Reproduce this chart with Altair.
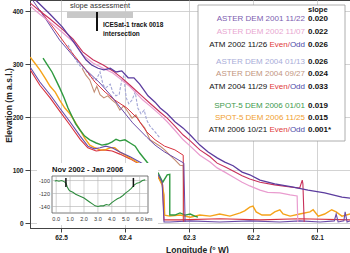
import altair as alt
import pandas as pd

# ---------------- data (longitude °W, elevation m) ----------------
aster2001_lon = [62.539, 62.517, 62.498, 62.478, 62.461, 62.452, 62.442, 62.433, 62.423, 62.414, 62.405, 62.395,
                 62.386, 62.377, 62.364, 62.353, 62.345, 62.334, 62.322, 62.309, 62.298, 62.283, 62.270, 62.256,
                 62.244, 62.231, 62.217, 62.205, 62.189, 62.166, 62.139, 62.114, 62.088, 62.061, 62.048]
aster2001_elev = [420, 394, 370, 338, 308, 298, 292, 289, 292, 285, 287, 274,
                  274, 262, 240, 228, 217, 206, 191, 179, 166, 147, 134, 123,
                  115, 108, 96, 91, 81, 74, 68, 62, 57, 49, 47]

aster2002_lon = [62.548, 62.533, 62.517, 62.498, 62.481, 62.466, 62.450, 62.434, 62.419, 62.405, 62.392, 62.372,
                 62.361, 62.345, 62.334, 62.322, 62.309, 62.298, 62.283, 62.267, 62.256, 62.244, 62.231, 62.217,
                 62.205, 62.189, 62.177, 62.158, 62.142, 62.131, 62.130]
aster2002_elev = [409, 394, 379, 360, 342, 317, 302, 292, 283, 270, 257, 232,
                  221, 204, 191, 175, 157, 145, 128, 115, 104, 96, 87, 77,
                  70, 62, 58, 57, 53, 51, 2]

atm2002_lon = [62.548, 62.533, 62.517, 62.498, 62.481, 62.466, 62.450, 62.434, 62.419, 62.405, 62.392, 62.372,
               62.361, 62.345, 62.334, 62.322, 62.309, 62.298, 62.283, 62.267, 62.256, 62.244, 62.231, 62.217,
               62.205, 62.189, 62.166, 62.142, 62.127, 62.123, 62.122, 62.120]
atm2002_elev = [415, 400, 385, 366, 347, 323, 308, 298, 287, 274, 260, 238,
                226, 209, 198, 183, 166, 155, 138, 125, 113, 106, 98, 89,
                83, 77, 72, 68, 66, 81, 74, 2]

atm2004_odd_lon = [62.544, 62.525, 62.502, 62.478, 62.461, 62.439, 62.423, 62.408, 62.388, 62.366, 62.353,
                   62.338, 62.322, 62.308, 62.306]
atm2004_odd_elev = [420, 387, 345, 311, 289, 264, 242, 219, 189, 162, 147, 134, 123, 113, 2]

atm2004_even_lon = [62.533, 62.509, 62.486, 62.463, 62.447, 62.431, 62.416, 62.397, 62.381, 62.366, 62.353,
                    62.338, 62.322, 62.309, 62.308]
atm2004_even_elev = [402, 364, 326, 292, 266, 247, 232, 217, 198, 172, 157, 145, 138, 128, 2]

aster2004a_lon = [62.489, 62.483, 62.477, 62.470, 62.464, 62.458, 62.452, 62.445, 62.439, 62.434, 62.430, 62.423,
                  62.419, 62.414, 62.409, 62.405, 62.402, 62.398, 62.394, 62.389, 62.384, 62.380, 62.375, 62.370,
                  62.366, 62.361, 62.353, 62.345]
aster2004a_elev = [336, 323, 308, 296, 292, 283, 274, 270, 285, 260, 255, 262,
                   247, 240, 243, 270, 277, 236, 225, 232, 247, 217, 206, 213,
                   194, 183, 172, 160]

aster2004b_lon = [62.467, 62.461, 62.455, 62.448, 62.444, 62.439, 62.433, 62.427, 62.420, 62.414, 62.408, 62.402,
                  62.395, 62.389, 62.383, 62.377, 62.369, 62.361, 62.353, 62.345, 62.338, 62.330, 62.322, 62.314,
                  62.309, 62.309]
aster2004b_elev = [292, 279, 270, 247, 258, 242, 236, 240, 232, 226, 213, 221,
                   209, 198, 204, 191, 179, 157, 151, 145, 138, 128, 119, 109,
                   108, 2]

spot2006a_lon = [62.528, 62.522, 62.514, 62.508, 62.502, 62.495, 62.489, 62.483, 62.477, 62.470, 62.463, 62.455,
                 62.445, 62.436, 62.427, 62.420, 62.414, 62.408, 62.400, 62.392, 62.384, 62.377, 62.361, 62.348,
                 62.341, 62.334, 62.330, 62.330, 62.322, 62.314, 62.306, 62.298, 62.291, 62.286]
spot2006a_elev = [311, 300, 285, 270, 255, 236, 217, 202, 187, 175, 164, 157,
                  151, 147, 149, 153, 158, 155, 157, 151, 145, 132, 108, 94,
                  77, 91, 92, 15, 15, 19, 15, 17, 13, 11]

spot2006b_lon = [62.548, 62.541, 62.533, 62.525, 62.517, 62.509, 62.502, 62.494, 62.486, 62.478, 62.470, 62.463,
                 62.455, 62.447, 62.439, 62.431, 62.423, 62.416, 62.408, 62.395, 62.384, 62.373, 62.361, 62.348,
                 62.342, 62.339, 62.338, 62.330, 62.314, 62.298, 62.283, 62.267, 62.252, 62.236, 62.220, 62.213,
                 62.205, 62.200, 62.195, 62.186, 62.173, 62.166, 62.158, 62.153, 62.142, 62.127, 62.111, 62.106,
                 62.098, 62.088, 62.077, 62.070, 62.061, 62.048]
spot2006b_elev = [313, 302, 289, 274, 258, 247, 232, 217, 206, 191, 175, 160,
                  147, 142, 138, 138, 142, 142, 134, 125, 117, 109, 100, 87,
                  72, 53, 15, 13, 15, 11, 15, 13, 17, 13, 19, 23,
                  30, 32, 21, 15, 15, 21, 25, 17, 13, 17, 21, 25,
                  13, 17, 25, 21, 13, 17]

atm2006_odd_lon = [62.548, 62.533, 62.517, 62.502, 62.486, 62.470, 62.458, 62.448, 62.439, 62.430, 62.420, 62.408,
                   62.392, 62.377, 62.361, 62.348, 62.342, 62.339, 62.330, 62.298, 62.252, 62.205, 62.158, 62.127,
                   62.095, 62.073, 62.070, 62.067, 62.058, 62.056, 62.053, 62.048]
atm2006_odd_elev = [294, 266, 242, 217, 191, 164, 145, 140, 142, 145, 142, 134,
                    125, 115, 104, 91, 77, 2, 2, 4, 2, 4, 2, 4,
                    2, 4, 17, 2, 4, 21, 2, 4]

atm2006_even_lon = [62.548, 62.533, 62.517, 62.502, 62.486, 62.470, 62.458, 62.445, 62.433, 62.420, 62.408, 62.392,
                    62.377, 62.361, 62.348, 62.341, 62.339, 62.314, 62.252, 62.189, 62.127, 62.048]
atm2006_even_elev = [289, 260, 236, 211, 185, 158, 142, 136, 138, 136, 130, 121,
                     111, 100, 87, 72, 6, 6, 8, 6, 8, 6]

# inset: elevation change Nov 2002 - Jan 2006 along track
inset_km = [-0.1, 0.0, 0.2, 0.4, 0.6, 0.7, 0.8, 0.9, 1.0, 1.2, 1.4, 1.6, 1.8, 2.0, 2.2, 2.4, 2.6, 2.8,
            3.0, 3.2, 3.4, 3.6, 3.8, 4.0, 4.2, 4.4, 4.6, 4.8, 5.0, 5.2, 5.4, 5.6, 5.8, 6.0, 6.2, 6.4]
inset_dh = [-101, -100, -101, -100, -102, -104, -110, -114, -116, -118, -121, -123, -125, -127, -130, -133,
            -136, -139, -140, -139, -139, -137, -138, -134, -131, -128, -126, -123, -119, -116, -112, -107,
            -104, -103, -100, -99]
inset_marks_km = [0.7, 5.55]
inset_marks_dh = [-96, -110]

# legend content
legend_labels = ['ASTER DEM 2001 11/22', 'ASTER DEM 2002 11/07', 'ATM 2002 11/26',
                 'ASTER DEM 2004 01/13', 'ASTER DEM 2004 09/27', 'ATM 2004 11/29',
                 'SPOT-5 DEM 2006 01/01', 'SPOT-5 DEM 2006 11/25', 'ATM 2006 10/21']
legend_slopes = ['0.020', '0.022', '0.026', '0.026', '0.024', '0.033', '0.019', '0.015', '0.001*']
legend_atm = [False, False, True, False, False, True, False, False, True]

x_ticks = [62.5, 62.4, 62.3, 62.2, 62.1]
y_ticks = [0, 100, 200, 300, 400]
inset_x_ticks = [0, 1, 2, 3, 4, 5, 6]
inset_y_ticks = [-100, -120, -140]

# ---------------- styles ----------------
C_2001 = '#5b3c9e'
C_2002 = '#e99ccf'
C_EVEN = '#d8323e'
C_2004A = '#a3a6d6'
C_2004B = '#c38c72'
C_2006A = '#2f9a3f'
C_2006B = '#f5a31a'
C_ATM_ODD = '#6a4aa8'
legend_colors = ['#7b5cb0', '#e8a6d0', '#111111', '#a8acd8', '#c29580', '#111111', '#3d9a4d', '#f0a030', '#111111']
legend_rows_y = [19, 31.5, 44.5, 61.5, 74, 86.5, 105.5, 117.5, 130]

FONT = 'Liberation Sans'
W, H = 320, 228
OX = 30  # left padding: pixel positions below are page pixels, shifted into plot coordinates

xscale = alt.Scale(domain=[62.0484, 62.5484], reverse=True, nice=False, zero=False)
yscale = alt.Scale(domain=[-9.4, 420.8], nice=False, zero=False)
xaxis = alt.Axis(values=x_ticks, format='.1f', title='Longitude (° W)', grid=True,
                 gridColor='#c8c8c8', gridWidth=0.8, labelFont=FONT, labelFontWeight='bold',
                 labelFontSize=6.5, labelColor='#222', tickColor='#444', tickSize=4, labelPadding=2,
                 domainColor='#444', titleFont=FONT, titleFontSize=8.5, titleFontWeight='bold',
                 titleColor='#222', titleX=167, titleY=21, titleBaseline='middle')
yaxis = alt.Axis(values=y_ticks, format='d', title='Elevation (m a.s.l.)', grid=True,
                 gridColor='#c8c8c8', gridWidth=0.8, labelFont=FONT, labelFontWeight='bold',
                 labelFontSize=6.5, labelColor='#222', tickColor='#444', tickSize=5, labelPadding=2,
                 domainColor='#444', titleFont=FONT, titleFontSize=8.5, titleFontWeight='bold',
                 titleColor='#222', titleX=-22, titleY=105, titleBaseline='middle', titleAngle=270)
X = alt.X('lon:Q', scale=xscale, axis=xaxis)
Y = alt.Y('elev:Q', scale=yscale, axis=yaxis)

one = pd.DataFrame({'a': [0]})


def line_layer(lon, elev, color, width=1.1, dash=None):
    df = pd.DataFrame({'lon': lon, 'elev': elev, 'i': list(range(len(lon)))})
    kw = dict(color=color, strokeWidth=width, clip=True)
    if dash:
        kw['strokeDash'] = dash
    return alt.Chart(df).mark_line(**kw).encode(x=X, y=Y, order='i:Q')


def text_at(txt, x, y, color='#111', size=8, weight='normal', align='left'):
    return alt.Chart(one).mark_text(text=txt, font=FONT, fontSize=size, fontWeight=weight,
                                    color=color, align=align, baseline='middle').encode(
        x=alt.value(x - OX), y=alt.value(y))


def box(x0, x1, y0, y1, **kw):
    return alt.Chart(one).mark_rect(**kw).encode(
        x=alt.value(x0 - OX), x2=alt.value(x1 - OX), y=alt.value(y0), y2=alt.value(y1))


main_layers = [
    line_layer(aster2004a_lon, aster2004a_elev, C_2004A, 1.1, [3, 1.5]),
    line_layer(aster2004b_lon, aster2004b_elev, C_2004B, 1.1),
    line_layer(atm2006_even_lon, atm2006_even_elev, C_EVEN, 1.1),
    line_layer(spot2006b_lon, spot2006b_elev, C_2006B, 1.4),
    line_layer(spot2006a_lon, spot2006a_elev, C_2006A, 1.4),
    line_layer(atm2006_odd_lon, atm2006_odd_elev, C_ATM_ODD, 1.1),
    line_layer(atm2004_even_lon, atm2004_even_elev, C_EVEN, 1.0),
    line_layer(atm2004_odd_lon, atm2004_odd_elev, C_ATM_ODD, 1.0),
    line_layer(aster2002_lon, aster2002_elev, C_2002, 1.2),
    line_layer(atm2002_lon, atm2002_elev, '#c8305a', 1.1),
    line_layer(aster2001_lon, aster2001_elev, C_2001, 1.3),
]

# slope assessment bar + ICESat marker
main_layers += [
    box(67, 133, 12, 18, color='#c8c8c8'),
    text_at('slope assessment', 100, 6, '#333', 7.5, 'normal', 'center'),
    alt.Chart(one).mark_rule(color='#111', strokeWidth=2).encode(
        x=alt.value(97 - OX), y=alt.value(12), y2=alt.value(31)),
    text_at('ICESat-1 track 0018', 103, 25, '#111', 6.5, 'bold'),
    text_at('intersection', 103, 34, '#111', 6.5, 'bold'),
]

# legend box
main_layers.append(box(198, 345, 5, 141, fill='white', stroke='#9a9a9a', strokeWidth=0.8))
main_layers.append(text_at('slope', 308, 10, '#111', 7.5, 'bold'))
R = 305
for lab, slope, col, atm, ry in zip(legend_labels, legend_slopes, legend_colors, legend_atm, legend_rows_y):
    if atm:
        main_layers.append(text_at('Odd', R, ry, '#4a4aa8', 8, 'normal', 'right'))
        main_layers.append(text_at('Even/', R - 15.1, ry, '#e03a3a', 8, 'normal', 'right'))
        main_layers.append(text_at(lab, R - 15.1 - 20.5 - 2.2, ry, col, 8, 'normal', 'right'))
    else:
        main_layers.append(text_at(lab, R, ry, col, 8, 'normal', 'right'))
    main_layers.append(text_at(slope, 308, ry, '#111', 8, 'bold'))

main = alt.layer(*main_layers)

# ---------------- inset ----------------
IX0, IX1, IY0, IY1 = 52, 148, 176, 213
ixs = alt.Scale(domain=[-0.3, 6.6], range=[IX0 - OX, IX1 - OX], nice=False, zero=False)
iys = alt.Scale(domain=[-150, -93], range=[IY1, IY0], nice=False, zero=False)
IXe = lambda f: alt.X(f, scale=ixs, axis=None)
IYe = lambda f: alt.Y(f, scale=iys, axis=None)

inset_df = pd.DataFrame({'km': inset_km, 'dh': inset_dh})
gx_df = pd.DataFrame({'km': inset_x_ticks, 'lab': [f'{v:.1f}' for v in inset_x_ticks]})
gy_df = pd.DataFrame({'dh': inset_y_ticks, 'lab': [str(v) for v in inset_y_ticks]})
mk_df = pd.DataFrame({'km': inset_marks_km, 'lo': [inset_marks_dh[1]] * 2, 'hi': [inset_marks_dh[0]] * 2})

inset_layers = [
    box(37, 158, 163, 225, fill='white'),
    box(IX0, IX1, IY0, IY1, fill='white', stroke='#555', strokeWidth=0.8),
    alt.Chart(gx_df).mark_rule(color='#b0b0b0', strokeWidth=0.6).encode(
        x=IXe('km:Q'), y=alt.value(IY0), y2=alt.value(IY1)),
    alt.Chart(gy_df).mark_rule(color='#b0b0b0', strokeWidth=0.6).encode(
        y=IYe('dh:Q'), x=alt.value(IX0 - OX), x2=alt.value(IX1 - OX)),
    alt.Chart(inset_df).mark_line(color='#2e8b3e', strokeWidth=1.1).encode(
        x=IXe('km:Q'), y=IYe('dh:Q')),
    alt.Chart(mk_df).mark_rule(color='#111', strokeWidth=1.5).encode(
        x=IXe('km:Q'), y=IYe('lo:Q'), y2='hi:Q'),
    alt.Chart(gx_df).mark_text(font=FONT, fontSize=5.5, color='#333', baseline='middle').encode(
        x=IXe('km:Q'), y=alt.value(219), text='lab:N'),
    alt.Chart(gy_df).mark_text(font=FONT, fontSize=5.5, color='#333', align='right', baseline='middle').encode(
        y=IYe('dh:Q'), x=alt.value(50 - OX), text='lab:N'),
    text_at('km', 145, 219, '#333', 5.5, 'normal', 'left'),
    text_at('Nov 2002 - Jan 2006', 52, 170, '#111', 7.5, 'bold', 'left'),
]
inset = alt.layer(*inset_layers)

chart = alt.layer(main, inset).resolve_scale(x='independent', y='independent').properties(
    width=W, height=H, autosize='none',
    padding={'left': 30, 'top': 0, 'right': 0, 'bottom': 25},
    background='white'
).configure_view(stroke='#444', strokeWidth=1)

chart.save('out.html', embed_options={'renderer': 'svg', 'actions': False})
